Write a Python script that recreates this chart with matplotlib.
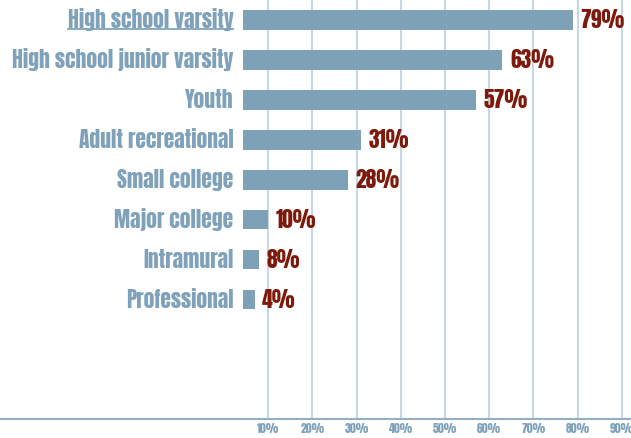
import matplotlib
matplotlib.use("Agg")
import matplotlib.pyplot as plt
from matplotlib.lines import Line2D

# share of players at each level
levels = ["High school varsity", "High school junior varsity", "Youth",
          "Adult recreational", "Small college", "Major college",
          "Intramural", "Professional"]
shares = [79, 63, 57, 31, 28, 10, 8, 4]
tick_values = [10, 20, 30, 40, 50, 60, 70, 80, 90]
tick_labels = ["10%", "20%", "30%", "40%", "50%", "60%", "70%", "80%", "90%"]

bar_color = "#7ea1b8"
label_color = "#7fa2ba"
value_color = "#7d1a0c"
grid_color = "#c8d7e3"

plt.rcParams["font.family"] = ["Anton", "DejaVu Sans"]

fig = plt.figure(figsize=(6.31, 4.38), dpi=100)
ax = fig.add_axes([0, 1 - 419 / 438, 1, 419 / 438])

base = 4.3  # bars start a bit right of zero, like the original
ypos = list(range(len(levels)))
widths = [max(v - base, 2.6) for v in shares]
ax.barh(ypos, widths, left=base, height=0.48, color=bar_color, zorder=2)

for y, v, w in zip(ypos, shares, widths):
    ax.text(base + w + 1.7, y, f"{v}%", color=value_color, fontsize=15.5,
            va="center", ha="left", zorder=3)
    ax.text(base - 2.2, y, levels[y], color=label_color, fontsize=15.5,
            va="center", ha="right", zorder=3)

for t in tick_values:
    ax.axvline(t, color=grid_color, lw=1.5, zorder=1)

ax.set_xlim(-50.7, 92.1)
ax.set_ylim(9.98, -0.5)
ax.set_xticks(tick_values)
ax.set_xticklabels(tick_labels, color=label_color, fontsize=8.5)
ax.tick_params(axis="x", length=0, pad=3)
ax.set_yticks([])
for s in ["top", "left", "right"]:
    ax.spines[s].set_visible(False)
ax.spines["bottom"].set_color("#93afc3")
ax.spines["bottom"].set_linewidth(1.5)

# underline the first label
fig.canvas.draw()
first = [t for t in ax.texts if t.get_text() == levels[0]][0]
bb = first.get_window_extent().transformed(fig.transFigure.inverted())
fig.add_artist(Line2D([bb.x0, bb.x1], [bb.y0 + 0.006, bb.y0 + 0.006],
                      color=label_color, lw=1.3, transform=fig.transFigure))

fig.savefig("out.png", dpi=100)
